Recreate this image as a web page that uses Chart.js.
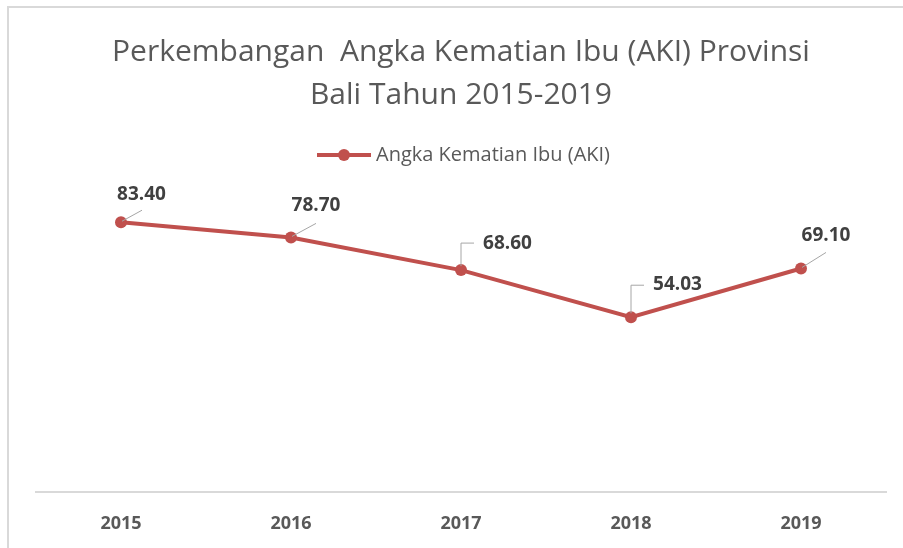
<!DOCTYPE html>
<html>
<head>
<meta charset="utf-8">
<script src="https://cdn.jsdelivr.net/npm/chart.js@4.4.1/dist/chart.umd.min.js"></script>
<style>
  html, body { margin: 0; padding: 0; background: #fff; }
  #wrap { width: 903px; height: 548px; position: relative; }
</style>
</head>
<body>
<div id="wrap"><canvas id="chart"></canvas></div>
<script>
// data
const years = ['2015', '2016', '2017', '2018', '2019'];
const akiValues = [83.40, 78.70, 68.60, 54.03, 69.10];
const seriesName = 'Angka Kematian Ibu (AKI)';
const titleLines = ['Perkembangan  Angka Kematian Ibu (AKI) Provinsi', 'Bali Tahun 2015-2019'];

const lineColor = '#C0504D';
const textColor = '#595959';
const fontFamily = '"Open Sans", "Noto Sans", sans-serif';

// where each data label sits relative to its point, and how the leader is drawn
const labelPlacement = [
  { dx: 20.5, dy: -28, leader: 'diag', ex: 21, ey: -12 },
  { dx: 25, dy: -32, leader: 'diag', ex: 25, ey: -14 },
  { dx: 46.5, dy: -26, leader: 'elbow', ex: 13, ey: -27 },
  { dx: 46.5, dy: -32.5, leader: 'elbow', ex: 13, ey: -32 },
  { dx: 25, dy: -33, leader: 'diag', ex: 25, ey: -16 }
];

// legend marker: line with a dot in the middle (left margin keeps it next to the text)
const legendMark = document.createElement('canvas');
legendMark.width = 64;
legendMark.height = 14;
(function () {
  const g = legendMark.getContext('2d');
  g.strokeStyle = lineColor;
  g.lineWidth = 4;
  g.beginPath();
  g.moveTo(10, 7);
  g.lineTo(64, 7);
  g.stroke();
  g.fillStyle = lineColor;
  g.beginPath();
  g.arc(37, 7, 6, 0, Math.PI * 2);
  g.fill();
})();

const frame = {
  id: 'frame',
  beforeDraw(chart) {
    const ctx = chart.ctx;
    ctx.save();
    ctx.fillStyle = '#fff';
    ctx.fillRect(0, 0, chart.width, chart.height);
    ctx.fillStyle = '#d9d9d9';
    ctx.fillRect(7, 6, chart.width - 7, 2);
    ctx.fillRect(7, 6, 2, chart.height - 6);
    ctx.restore();
  }
};

const dataLabels = {
  id: 'dataLabels',
  afterDatasetsDraw(chart) {
    const ctx = chart.ctx;
    const meta = chart.getDatasetMeta(0);
    ctx.save();
    meta.data.forEach((pt, i) => {
      const p = labelPlacement[i];
      ctx.strokeStyle = '#a6a6a6';
      ctx.lineWidth = 1;
      ctx.beginPath();
      if (p.leader === 'elbow') {
        ctx.moveTo(pt.x, pt.y - 4);
        ctx.lineTo(pt.x, pt.y + p.ey);
        ctx.lineTo(pt.x + p.ex, pt.y + p.ey);
      } else {
        ctx.moveTo(pt.x + 1, pt.y - 1);
        ctx.lineTo(pt.x + p.ex, pt.y + p.ey);
      }
      ctx.stroke();
      ctx.fillStyle = '#404040';
      ctx.font = 'bold 19px ' + fontFamily;
      ctx.textAlign = 'center';
      ctx.textBaseline = 'middle';
      ctx.fillText(akiValues[i].toFixed(2), pt.x + p.dx, pt.y + p.dy);
    });
    ctx.restore();
  }
};

new Chart(document.getElementById('chart'), {
  type: 'line',
  data: {
    labels: years,
    datasets: [{
      label: seriesName,
      data: akiValues,
      borderColor: lineColor,
      backgroundColor: lineColor,
      borderWidth: 4,
      pointRadius: 6,
      pointHoverRadius: 6,
      pointBackgroundColor: lineColor,
      pointBorderWidth: 0,
      tension: 0
    }]
  },
  options: {
    responsive: true,
    maintainAspectRatio: false,
    animation: false,
    layout: { padding: { left: 36, right: 17, top: 23, bottom: 0 } },
    scales: {
      x: {
        offset: true,
        grid: { display: false, drawTicks: false },
        border: { display: true, color: '#d9d9d9', width: 2 },
        ticks: { color: textColor, font: { family: fontFamily, size: 18, weight: 'bold' }, padding: 21 },
        afterFit: (scale) => { scale.height = 56; }
      },
      y: {
        display: false,
        min: 0,
        max: 98
      }
    },
    plugins: {
      title: {
        display: true,
        text: titleLines,
        color: textColor,
        font: { family: fontFamily, size: 30, weight: 'normal', lineHeight: 1.433 },
        padding: { top: 8, bottom: 20 }
      },
      legend: {
        display: true,
        labels: {
          color: textColor,
          font: { family: fontFamily, size: 20 },
          usePointStyle: true,
          pointStyleWidth: 54,
          padding: 8,
          generateLabels: (chart) => [{
            text: seriesName,
            pointStyle: legendMark,
            fontColor: textColor,
            lineWidth: 0,
            datasetIndex: 0
          }]
        }
      },
      tooltip: { enabled: false }
    }
  },
  plugins: [frame, dataLabels]
});
</script>
</body>
</html>
